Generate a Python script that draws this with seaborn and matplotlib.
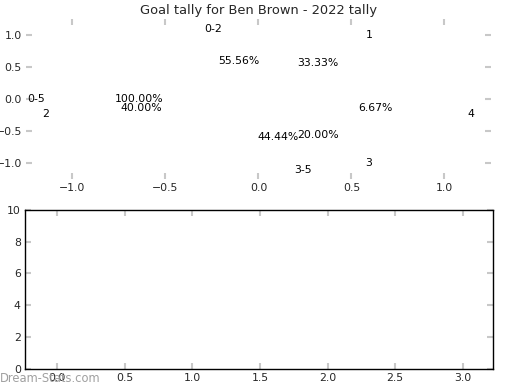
import matplotlib
matplotlib.use("Agg")
import matplotlib.pyplot as plt
import seaborn as sns

# --- chart data ---
range_labels = ["0-2", "3-5"]
range_counts = [5, 4]

goal_labels = ["1", "2", "3", "4"]
goal_counts = [5, 6, 3, 1]

total_labels = ["0-5"]
total_counts = [9]

bottom_xticks = [0.0, 0.5, 1.0, 1.5, 2.0, 2.5, 3.0]
bottom_yticks = [0, 2, 4, 6, 8, 10]

sns.set_theme(style="white")
plt.rcParams['font.family'] = ['DejaVu Sans']

fig = plt.figure(figsize=(5.2, 3.9), dpi=100)
ax_pie = fig.add_axes([0.05, 0.541, 0.894, 0.41])
ax_bar = fig.add_axes([0.048, 0.054, 0.9, 0.408])

txt = dict(fontsize=7.8, color='black')
hidden = dict(alpha=0, linewidth=0)

# pies drawn with invisible wedges, only the labels show
ax_pie.pie(range_counts, labels=range_labels, autopct='%.2f%%', labeldistance=1.12,
           wedgeprops=hidden, textprops=txt, frame=True)
ax_pie.pie(goal_counts, labels=goal_labels, autopct='%.2f%%', radius=1.045,
           pctdistance=0.615, wedgeprops=hidden, textprops=txt, frame=True)
ax_pie.pie(total_counts, labels=total_labels, autopct='%.2f%%', radius=1.045,
           pctdistance=0.615, wedgeprops=hidden, textprops=txt, frame=True)

ax_pie.set_aspect('auto')
ax_pie.set_xlim(-1.25, 1.25)
ax_pie.set_ylim(-1.25, 1.25)
ax_pie.set_xticks([-1.0, -0.5, 0.0, 0.5, 1.0])
ax_pie.set_yticks([-1.0, -0.5, 0.0, 0.5, 1.0])
for s in ax_pie.spines.values():
    s.set_visible(False)
ax_pie.set_title("Goal tally for Ben Brown - 2022 tally", fontsize=9.4, pad=4)

# empty lower panel
ax_bar.set_xlim(-0.236, 3.222)
ax_bar.set_ylim(0, 10)
ax_bar.set_xticks(bottom_xticks)
ax_bar.set_yticks(bottom_yticks)
for s in ax_bar.spines.values():
    s.set_visible(True)
    s.set_color('black')
    s.set_linewidth(1.0)

for ax in (ax_pie, ax_bar):
    ax.tick_params(which='both', direction='in', top=True, right=True,
                   bottom=True, left=True, length=4, width=1.5,
                   color='#c8c8c8', labelsize=7.8, pad=3)
    ax.grid(False)

fig.text(0.0, 0.013, "Dream-Stats.com", fontsize=8.3, color='#a0a0a0',
         ha='left', va='bottom')

fig.savefig("out.png", dpi=100)
